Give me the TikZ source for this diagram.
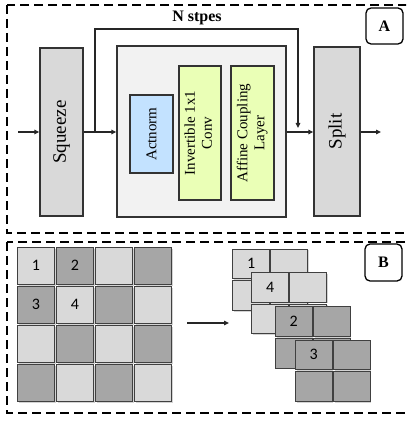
\documentclass[tikz,border=0pt]{standalone}
\usepackage{fontspec}
\setmainfont{Liberation Serif}
\newfontfamily\cellfont{Carlito}
\usetikzlibrary{arrows.meta,shadows}

\definecolor{boxgray}{HTML}{D9D9D9}
\definecolor{panelgray}{HTML}{F2F2F2}
\definecolor{normblue}{HTML}{C3E2FF}
\definecolor{layergreen}{HTML}{EAFFB6}
\definecolor{cellL}{HTML}{D9D9D9}
\definecolor{cellD}{HTML}{A6A6A6}

\begin{document}
\begin{tikzpicture}[x=1pt,y=-1pt,
  frame/.style={line width=1.4pt, dash pattern=on 9pt off 5pt},
  tag/.style={draw, line width=1.3pt, rounded corners=5pt, inner sep=0pt,
    font=\bfseries\fontsize{16}{18}\selectfont},
  block/.style={draw=black!80, line width=1.3pt, inner sep=0pt},
  flow/.style={line width=1.3pt, draw=black!85, -{Triangle[length=5pt,width=4.5pt]}},
  cell/.style={draw=black!75, line width=0.8pt, inner sep=0pt,
    drop shadow={shadow xshift=1.2pt, shadow yshift=-1.2pt, opacity=0.35}},
  num/.style={font=\cellfont\fontsize{16}{18}\selectfont, inner sep=0pt},
  small/.style={font=\fontsize{15}{17}\selectfont},
  big/.style={font=\fontsize{19}{21}\selectfont}
]
\useasboundingbox (0,0) rectangle (406,422);
\clip (0,0) rectangle (406,422);

% ---- panel A: one level of the flow ----
\draw[frame] (7,5) rectangle (420,233);
\node[tag, minimum width=37pt, minimum height=36pt] (tagA) at (384.5,26) {A};

\node[block, fill=boxgray, big, minimum width=43pt, minimum height=168pt] (sq) at (61.5,132) {\rotatebox{90}{Squeeze}};
\node[block, fill=panelgray, minimum width=169pt, minimum height=171pt] (stepbox) at (201.5,131.5) {};
\node[block, fill=normblue, small, minimum width=43pt, minimum height=78pt] (an) at (151.5,134) {\rotatebox{90}{Actnorm}};
\node[block, fill=layergreen, small, minimum width=42pt, minimum height=134pt] (conv) at (200,133)
  {\rotatebox{90}{\begin{tabular}{@{}c@{}}Invertible 1x1\\Conv\end{tabular}}};
\node[block, fill=layergreen, small, minimum width=43pt, minimum height=134pt] (cpl) at (252.5,133)
  {\rotatebox{90}{\begin{tabular}{@{}c@{}}Affine Coupling\\Layer\end{tabular}}};
\node[block, fill=boxgray, big, minimum width=46pt, minimum height=169pt] (sp) at (337,131.5) {\rotatebox{90}{Split}};

\node[font=\bfseries\fontsize{16}{18}\selectfont, inner sep=0pt] (nlabel) at (197,18) {N stpes};

\coordinate (in) at (18,132);
\coordinate (out) at (381,132);
\coordinate (tap) at (95,132);
\coordinate (loopA) at (95,29);
\coordinate (loopB) at (298,29);
\coordinate (loopEnd) at (298,128);

\draw[flow] (in) -- (in -| sq.west);
\draw[flow] (sq.east |- tap) -- (stepbox.west |- tap);
\draw[flow] (tap) -- (loopA) -- (loopB) -- (loopEnd);
\draw[flow] (stepbox.east |- in) -- (sp.west |- in);
\draw[flow] (sp.east |- out) -- (out);

% ---- panel B: the squeeze operation ----
\draw[frame] (7,242) rectangle (420,413);
\node[tag, minimum width=37pt, minimum height=37pt] (tagB) at (383.5,262.5) {B};

% 4x4 checkerboard input
\foreach \r in {0,...,3}{
  \foreach \c in {0,...,3}{
    \pgfmathtruncatemacro\s{\r+\c}
    \ifodd\s \def\cc{cellD}\else\def\cc{cellL}\fi
    \node[cell, fill=\cc, minimum width=37.5pt, minimum height=37pt]
      (g\r\c) at ({36.05+39*\c},{265.8+39*\r}) {};
  }
}
\node[num] (g1) at (g00) {1};
\node[num] (g2) at (g01) {2};
\node[num] (g3) at (g10) {3};
\node[num] (g4) at (g11) {4};

\coordinate (mid) at (187,323);
\coordinate (midEnd) at (229,323);
\draw[flow] (mid) -- (midEnd);

% four stacked 2x2 channels
\foreach \k/\ox/\oy/\cc in {1/232.7/249/cellL, 2/251.7/272.3/cellL, 3/275.3/306.7/cellD, 4/295.3/340/cellD}{
  \foreach \r in {0,1}{
    \foreach \c in {0,1}{
      \node[cell, fill=\cc, minimum width=36.8pt, minimum height=29.6pt]
        (s\k\r\c) at ({\ox+18.4+38*\c},{\oy+14.8+31.8*\r}) {};
    }
  }
  \ifnum\k=1 \node[num] (t1) at (s100) {1};\fi
  \ifnum\k=2 \node[num] (t4) at (s200) {4};\fi
  \ifnum\k=3 \node[num] (t2) at (s300) {2};\fi
  \ifnum\k=4 \node[num] (t3) at (s400) {3};\fi
}
\end{tikzpicture}
\end{document}
